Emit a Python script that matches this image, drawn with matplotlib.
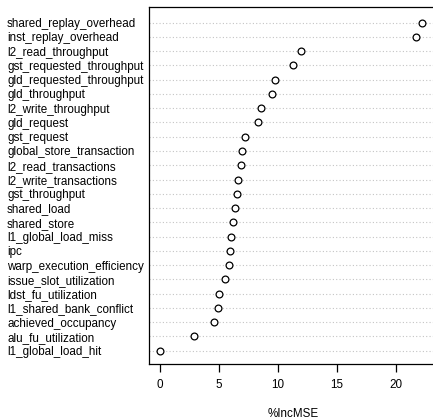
import matplotlib
matplotlib.use("Agg")
import matplotlib.pyplot as plt

plt.rcParams['font.family'] = ['Liberation Sans', 'DejaVu Sans']

# variables, top to bottom
names = ["shared_replay_overhead", "inst_replay_overhead", "l2_read_throughput",
         "gst_requested_throughput", "gld_requested_throughput", "gld_throughput",
         "l2_write_throughput", "gld_request", "gst_request", "global_store_transaction",
         "l2_read_transactions", "l2_write_transactions", "gst_throughput", "shared_load",
         "shared_store", "l1_global_load_miss", "ipc", "warp_execution_efficiency",
         "issue_slot_utilization", "ldst_fu_utilization", "l1_shared_bank_conflict",
         "achieved_occupancy", "alu_fu_utilization", "l1_global_load_hit"]
inc_mse = [22.25, 21.7, 12.0, 11.3, 9.75, 9.5, 8.55, 8.3, 7.2, 6.95,
           6.85, 6.6, 6.5, 6.35, 6.2, 6.0, 5.95, 5.85, 5.5, 5.0, 4.9, 4.55, 2.9, 0.0]
xticks = [0, 5, 10, 15, 20]

W, H = 433, 420
fig = plt.figure(figsize=(W / 100, H / 100), dpi=100)
ax = fig.add_axes([149 / W, 1 - 364 / H, (W - 149 + 5) / W, (364 - 7) / H])

n = len(names)
ypos = list(range(n, 0, -1))

for y in ypos:
    ax.axhline(y, color="#c4c4c4", lw=0.8, ls=(0, (1, 2)), zorder=1)
ax.scatter(inc_mse, ypos, s=24, facecolors="white", edgecolors="black",
           linewidths=0.9, zorder=3)

ax.set_xlim(-0.93, 23.6)
ax.set_ylim(0.07, n + 1.09)

ax.set_yticks(ypos)
ax.set_yticklabels(names, fontsize=8.4)
ax.tick_params(axis="y", length=0, pad=102.2)
for lab in ax.get_yticklabels():
    lab.set_horizontalalignment("left")

ax.set_xticks(xticks)
ax.set_xticklabels([str(t) for t in xticks], fontsize=8.4)
ax.tick_params(axis="x", length=6, width=0.9, pad=5)
ax.set_xlabel("%IncMSE", fontsize=8.4, labelpad=12)

for sp in ax.spines.values():
    sp.set_linewidth(0.9)

fig.savefig("out.png", dpi=100)
